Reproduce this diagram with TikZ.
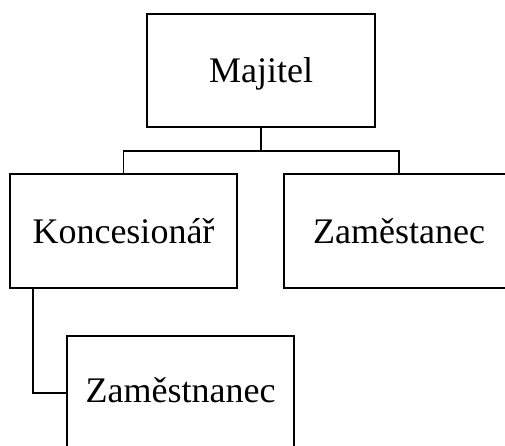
\documentclass[tikz,border=0pt]{standalone}
\usepackage{fontspec}
\setmainfont{Liberation Serif}
\begin{document}
\begin{tikzpicture}[x=1pt,y=-1pt,
  box/.style={draw=black,line width=1.6pt,rectangle,inner sep=0pt,
    font=\fontsize{36}{40}\selectfont,text height=24pt,text depth=0pt},
  wire/.style={draw=black,line width=1.6pt}]
\useasboundingbox (0,0) rectangle (505,446);
\clip (0,0) rectangle (505,446);
\node[box,minimum width=228pt,minimum height=113pt] (maj) at (261,70.5) {Majitel};
\node[box,minimum width=227pt,minimum height=114pt] (kon) at (123.5,231) {Koncesionář};
\node[box,minimum width=230pt,minimum height=114pt] (zam1) at (399,231) {Zaměstanec};
\node[box,minimum width=227pt,minimum height=120pt,text depth=12pt] (zam2) at (180.5,396) {Zaměstnanec};
\coordinate (bus) at (261,151);
\draw[wire] (maj.south) -- (bus);
\draw[wire] (kon.north) |- (bus) -| (zam1.north);
\draw[wire] (kon.south -| 33,0) -- (33,393) -- (zam2.west |- 0,393);
\end{tikzpicture}
\end{document}
